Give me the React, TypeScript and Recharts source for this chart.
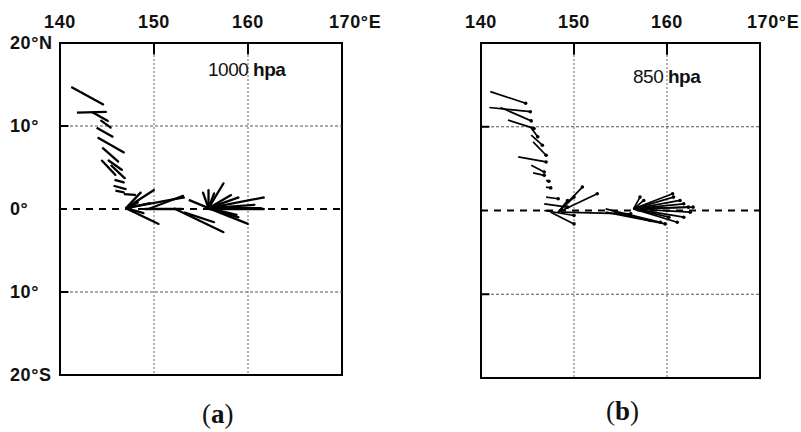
import React from 'react'
import { ReferenceArea, ReferenceLine, Scatter, ScatterChart, XAxis, YAxis } from 'recharts'

type Vec = [number, number, number, number]

const lonTicks = [140, 150, 160, 170]
const latTicks = [-20, -10, 0, 10, 20]
const latLabels: Record<string, string> = {
  '20': '20°N',
  '10': '10°',
  '0': '0°',
  '-10': '10°',
  '-20': '20°S',
}
const gridLons = [150, 160]
const gridLats = [10, -10]

// wind vectors: [lon start, lat start, lon end, lat end]
const vec1000: Vec[] = [
  [141.2, 14.7, 144.6, 12.6],
  [141.8, 11.6, 144.9, 11.7],
  [143.4, 11.7, 145.1, 10.6],
  [144.3, 10.7, 145.4, 9.8],
  [143.9, 9.8, 145.6, 8.7],
  [144.0, 8.6, 146.8, 6.8],
  [144.5, 7.4, 146.2, 5.7],
  [144.4, 5.9, 145.9, 4.1],
  [145.1, 5.9, 146.6, 4.7],
  [145.4, 5.3, 146.9, 3.7],
  [145.8, 3.5, 146.8, 3.2],
  [145.7, 2.8, 147.0, 2.4],
  [145.9, 2.2, 146.8, 2.0],
  [146.8, 1.8, 148.0, 1.7],
  [147.0, 0.1, 150.5, -1.8],
  [147.0, 0.1, 150.0, 2.3],
  [147.0, 0.1, 148.6, 2.0],
  [147.0, 0.1, 153.2, 1.4],
  [147.0, 0.1, 149.6, 0.7],
  [147.0, 0.1, 148.9, -0.5],
  [147.0, 0.1, 148.3, 0.8],
  [149.4, 0.0, 153.1, 1.6],
  [149.0, 0.0, 153.0, 0.0],
  [152.1, 0.1, 157.4, -2.8],
  [153.2, -0.4, 156.4, -1.6],
  [153.7, 1.1, 155.8, 0.1],
  [155.8, 0.1, 157.4, 3.1],
  [155.8, 0.1, 155.8, 2.3],
  [155.8, 0.1, 155.2, 2.0],
  [155.8, 0.1, 156.4, 1.9],
  [155.8, 0.1, 158.2, 1.7],
  [155.8, 0.1, 159.0, 1.4],
  [155.8, 0.1, 161.7, 1.4],
  [155.8, 0.1, 160.7, 0.5],
  [155.8, 0.1, 161.4, 0.1],
  [155.8, 0.1, 159.0, -1.0],
  [155.8, 0.1, 160.0, -1.8],
  [155.8, 0.1, 158.8, -0.7],
  [155.8, 0.0, 161.7, 0.0],
]

const vec850: Vec[] = [
  [141.0, 14.2, 144.8, 12.8],
  [140.9, 12.3, 145.3, 11.8],
  [142.1, 12.3, 145.4, 10.7],
  [142.9, 10.8, 145.7, 9.8],
  [145.3, 10.0, 146.1, 8.8],
  [145.4, 9.0, 146.6, 7.8],
  [145.6, 8.2, 147.0, 6.6],
  [144.0, 6.4, 147.0, 5.8],
  [145.4, 5.4, 146.8, 4.6],
  [145.6, 4.5, 146.8, 4.2],
  [147.0, 3.6, 147.3, 3.5],
  [147.0, 2.8, 147.5, 2.7],
  [147.0, 1.6, 148.3, 1.4],
  [146.8, 0.8, 149.3, 0.4],
  [148.3, -0.2, 150.9, 2.8],
  [148.3, -0.2, 152.5, 2.0],
  [148.3, -0.2, 150.0, 1.6],
  [148.3, -0.2, 149.3, 1.2],
  [147.5, -0.2, 150.0, -1.6],
  [146.8, 0.0, 150.0, -0.6],
  [148.6, -0.2, 156.1, -0.4],
  [153.4, -0.2, 159.8, -1.6],
  [154.3, -0.2, 158.2, -1.2],
  [153.4, 0.2, 159.3, -1.4],
  [156.4, 0.2, 160.6, 2.0],
  [156.4, 0.2, 157.1, 1.6],
  [156.4, 0.2, 157.5, 1.2],
  [156.4, 0.2, 161.4, 1.2],
  [156.4, 0.2, 162.3, 0.4],
  [156.4, 0.2, 162.5, -0.2],
  [156.4, 0.2, 161.8, -0.8],
  [156.4, 0.2, 161.1, -1.4],
  [156.4, 0.2, 160.2, -0.8],
  [156.4, 0.2, 160.7, 1.6],
  [156.4, 0.2, 161.8, 0.8],
  [156.4, 0.2, 162.8, 0.4],
]

const axisFont = {
  fontFamily: 'Liberation Sans, Arial, sans-serif',
  fontWeight: 700,
  fontSize: 18,
  fill: '#111',
  letterSpacing: 0.6,
}

function LonTick(props: any) {
  const { x, payload } = props
  if (payload.value === 170) {
    return (
      <text x={x - 13} y={28} textAnchor="start" {...axisFont}>
        170°E
      </text>
    )
  }
  return (
    <text x={x} y={28} textAnchor="middle" {...axisFont}>
      {payload.value}
    </text>
  )
}

function LatTick(props: any) {
  const { y, payload } = props
  return (
    <text x={10} y={y + 6} textAnchor="start" {...axisFont}>
      {latLabels[String(payload.value)]}
    </text>
  )
}

type PanelProps = {
  vectors: Vec[]
  left: number
  width: number
  plotLeft: number
  right: number
  bottom: number
  showLat: boolean
  lineWidth: number
  dotR: number
}

function Panel({ vectors, left, width, plotLeft, right, bottom, showLat, lineWidth, dotR }: PanelProps) {
  const ends = vectors.map((v) => ({ x: v[2], y: v[3] }))
  return (
    <div style={{ position: 'absolute', left, top: 0 }}>
      <ScatterChart width={width} height={432} margin={{ top: 0, right, bottom, left: 0 }}>
        <XAxis
          type="number"
          dataKey="x"
          domain={[140, 170]}
          ticks={lonTicks}
          orientation="top"
          height={43}
          axisLine={false}
          tickLine={false}
          allowDataOverflow
          interval={0}
          tick={<LonTick />}
        />
        <YAxis
          type="number"
          dataKey="y"
          domain={[-20, 20]}
          ticks={latTicks}
          width={plotLeft}
          axisLine={false}
          tickLine={false}
          allowDataOverflow
          interval={0}
          tick={showLat ? <LatTick /> : false}
        />
        {gridLons.map((lon) => (
          <ReferenceLine key={'gx' + lon} x={lon} stroke="#666" strokeWidth={1} strokeDasharray="2 2" />
        ))}
        {gridLats.map((lat) => (
          <ReferenceLine key={'gy' + lat} y={lat} stroke="#555" strokeWidth={1} strokeDasharray="3 2" />
        ))}
        <ReferenceLine y={0} stroke="#000" strokeWidth={2} strokeDasharray="7 6" />
        {gridLons.map((lon) => (
          <ReferenceLine
            key={'tx' + lon}
            segment={[
              { x: lon, y: 20 },
              { x: lon, y: 18.6 },
            ]}
            stroke="#000"
            strokeWidth={2}
          />
        ))}
        {gridLats.map((lat) => (
          <ReferenceLine
            key={'ty' + lat}
            segment={[
              { x: 140, y: lat },
              { x: 140.9, y: lat },
            ]}
            stroke="#000"
            strokeWidth={2}
          />
        ))}
        {vectors.map((v, i) => (
          <ReferenceLine
            key={'v' + i}
            segment={[
              { x: v[0], y: v[1] },
              { x: v[2], y: v[3] },
            ]}
            stroke="#000"
            strokeWidth={lineWidth}
            ifOverflow="visible"
          />
        ))}
        <ReferenceArea x1={140} x2={170} y1={-20} y2={20} fill="none" fillOpacity={0} stroke="#000" strokeWidth={2} />
        <Scatter
          data={ends}
          isAnimationActive={false}
          shape={(p: any) => <circle cx={p.cx} cy={p.cy} r={dotR} fill="#000" />}
        />
      </ScatterChart>
    </div>
  )
}

const levelStyle: React.CSSProperties = {
  position: 'absolute',
  fontFamily: 'Liberation Sans, Arial, sans-serif',
  fontSize: 19,
  color: '#111',
  whiteSpace: 'nowrap',
  letterSpacing: -0.5,
}

const captionStyle: React.CSSProperties = {
  position: 'absolute',
  fontFamily: 'Liberation Serif, serif',
  fontSize: 27,
  color: '#111',
  whiteSpace: 'nowrap',
}

export default function App() {
  return (
    <div style={{ position: 'absolute', left: 0, top: 0, width: 801, height: 432, background: '#fff', overflow: 'hidden' }}>
      <Panel
        vectors={vec1000}
        left={0}
        width={400}
        plotLeft={60}
        right={58}
        bottom={57}
        showLat
        lineWidth={2.3}
        dotR={1}
      />
      <Panel
        vectors={vec850}
        left={400}
        width={401}
        plotLeft={81}
        right={41}
        bottom={54}
        showLat={false}
        lineWidth={1.7}
        dotR={1.8}
      />
      <div style={{ ...levelStyle, left: 208, top: 59 }}>
        1000 <b>hpa</b>
      </div>
      <div style={{ ...levelStyle, left: 633, top: 66 }}>
        850 <b>hpa</b>
      </div>
      <div style={{ ...captionStyle, left: 202, top: 399 }}>
        (<b>a</b>)
      </div>
      <div style={{ ...captionStyle, left: 606, top: 396 }}>
        (<b>b</b>)
      </div>
    </div>
  )
}
